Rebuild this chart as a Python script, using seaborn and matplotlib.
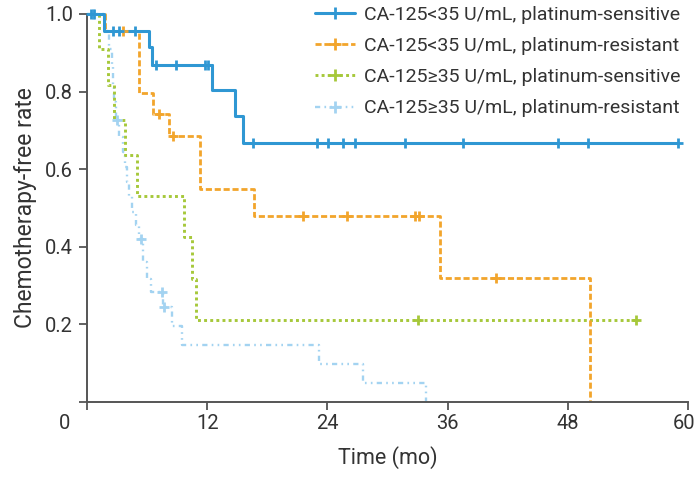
import numpy as np
import pandas as pd
import matplotlib
matplotlib.use("Agg")
import matplotlib.pyplot as plt
import seaborn as sns
from matplotlib.lines import Line2D
from matplotlib.transforms import ScaledTranslation

# ---------------- data ----------------
labels = [
    "CA-125<35 U/mL, platinum-sensitive",
    "CA-125<35 U/mL, platinum-resistant",
    "CA-125\u226535 U/mL, platinum-sensitive",
    "CA-125\u226535 U/mL, platinum-resistant",
]

# step curves: time of each step (months) and survival after the step
s1_time = [0, 1.7, 6.2, 6.5, 12.5, 14.8, 15.6, 59.0]
s1_surv = [1.0, 0.957, 0.914, 0.869, 0.804, 0.737, 0.668, 0.668]
s1_cens_time = [0.4, 0.7, 2.6, 3.2, 4.8, 6.9, 8.9, 11.8, 12.1, 16.6, 23.0, 24.1,
                25.6, 26.8, 31.7, 37.5, 47.0, 50.0, 59.0]
s1_cens_surv = [1.0, 1.0, 0.957, 0.957, 0.957, 0.869, 0.869, 0.869, 0.869, 0.668,
                0.668, 0.668, 0.668, 0.668, 0.668, 0.668, 0.668, 0.668, 0.668]

s2_time = [0, 1.8, 5.2, 6.6, 8.2, 11.3, 16.7, 35.2, 50.2]
s2_surv = [1.0, 0.955, 0.796, 0.742, 0.686, 0.549, 0.480, 0.320, 0.0]
s2_cens_time = [3.6, 7.2, 8.6, 21.6, 26.0, 32.7, 33.1, 40.8]
s2_cens_surv = [0.955, 0.742, 0.686, 0.480, 0.480, 0.480, 0.480, 0.320]

s3_time = [0, 1.2, 2.1, 2.7, 3.8, 5.0, 9.7, 10.5, 10.9, 54.8]
s3_surv = [1.0, 0.909, 0.818, 0.727, 0.636, 0.530, 0.424, 0.318, 0.212, 0.212]
s3_cens_time = [33.0, 54.8]
s3_cens_surv = [0.212, 0.212]

s4_time = [0, 1.8, 2.2, 2.5, 2.6, 2.7, 2.9, 3.2, 3.6, 3.8, 4.0, 4.2, 4.5, 4.9,
           5.2, 5.6, 6.0, 6.4, 7.6, 8.5, 9.5, 23.2, 27.6, 33.8]
s4_surv = [1.0, 0.955, 0.909, 0.864, 0.818, 0.773, 0.727, 0.682, 0.644, 0.606,
           0.568, 0.530, 0.490, 0.455, 0.420, 0.360, 0.318, 0.283, 0.245, 0.195,
           0.147, 0.098, 0.049, 0.0]
s4_cens_time = [0.6, 3.0, 5.4, 7.5, 7.7]
s4_cens_surv = [1.0, 0.727, 0.420, 0.283, 0.245]

x_ticks = [0, 12, 24, 36, 48, 60]
y_ticks = [0, 0.2, 0.4, 0.6, 0.8, 1.0]
y_tick_labels = ["", "0.2", "0.4", "0.6", "0.8", "1.0"]

# ---------------- styles ----------------
colors = ["#2F97D3", "#F2A52C", "#A6C83A", "#A3D3F1"]
widths = [2.2, 2.0, 2.1, 1.7]
dashes = [None, (2.2, 1.0), (1.0, 1.1), (2.2, 1.8, 0.7, 1.8, 0.7, 1.8)]

curves = [
    (s1_time, s1_surv, s1_cens_time, s1_cens_surv),
    (s2_time, s2_surv, s2_cens_time, s2_cens_surv),
    (s3_time, s3_surv, s3_cens_time, s3_cens_surv),
    (s4_time, s4_surv, s4_cens_time, s4_cens_surv),
]

sns.set_style("ticks")
plt.rcParams["font.family"] = ["Roboto", "DejaVu Sans"]

fig = plt.figure(figsize=(6.98, 4.78), dpi=100)
ax = fig.add_axes([0.12464, 0.15900, 0.86103, 0.81172])

# draw from last to first so the solid blue is on top
for i in [3, 2, 1, 0]:
    t, s, ct, cs = curves[i]
    df = pd.DataFrame({"t": t, "s": s})
    sns.lineplot(data=df, x="t", y="s", estimator=None, sort=False,
                 drawstyle="steps-post", color=colors[i], lw=widths[i], ax=ax)
    line = ax.lines[-1]
    line.set_clip_on(False)
    if dashes[i] is not None:
        line.set_dashes(dashes[i])
        line.set_dash_capstyle("butt")
    cdf = pd.DataFrame({"t": ct, "s": cs})
    sns.scatterplot(data=cdf, x="t", y="s", marker="+", s=55,
                    color=colors[i], linewidth=2.0, ax=ax, legend=False,
                    zorder=3)

for coll in ax.collections:
    coll.set_clip_on(False)

ax.set_xlim(0, 60)
ax.set_ylim(0, 1.0)
ax.set_xticks(x_ticks)
ax.set_xticklabels([str(v) for v in x_ticks])
ax.set_yticks(y_ticks)
ax.set_yticklabels(y_tick_labels)

for sp in ["top", "right"]:
    ax.spines[sp].set_visible(False)
for sp in ["left", "bottom"]:
    ax.spines[sp].set_color("#555555")
    ax.spines[sp].set_linewidth(1.4)

ax.tick_params(axis="both", direction="out", length=5.5, width=1.3,
               color="#555555", labelsize=14.5, labelcolor="#333333")
ax.tick_params(axis="x", pad=3.5)
ax.tick_params(axis="y", pad=4.5)

# shift the "0" tick label to the left as in the reference, keep "60" inside
xlabs = ax.get_xticklabels()
xlabs[0].set_transform(xlabs[0].get_transform() + ScaledTranslation(-0.22, 0, fig.dpi_scale_trans))
xlabs[-1].set_transform(xlabs[-1].get_transform() + ScaledTranslation(-0.04, 0, fig.dpi_scale_trans))

ax.set_xlabel("Time (mo)", fontsize=15.5, color="#333333", labelpad=9)
ax.set_ylabel("Chemotherapy-free rate", fontsize=16.5, color="#333333", labelpad=6)

handles = []
for i in range(4):
    h = Line2D([], [], color=colors[i], lw=widths[i], marker="+",
               markersize=8, markeredgewidth=2.0)
    if dashes[i] is not None:
        h.set_dashes(dashes[i])
        h.set_dash_capstyle("butt")
    handles.append(h)

leg = fig.legend(handles, labels, loc="upper right",
                 bbox_to_anchor=(0.9756, 0.988), frameon=False, fontsize=14,
                 numpoints=1, handlelength=2.05, handletextpad=0.5,
                 labelspacing=0.68, borderpad=0, borderaxespad=0)
for txt in leg.get_texts():
    txt.set_color("#333333")

fig.savefig("out.png", dpi=100)
